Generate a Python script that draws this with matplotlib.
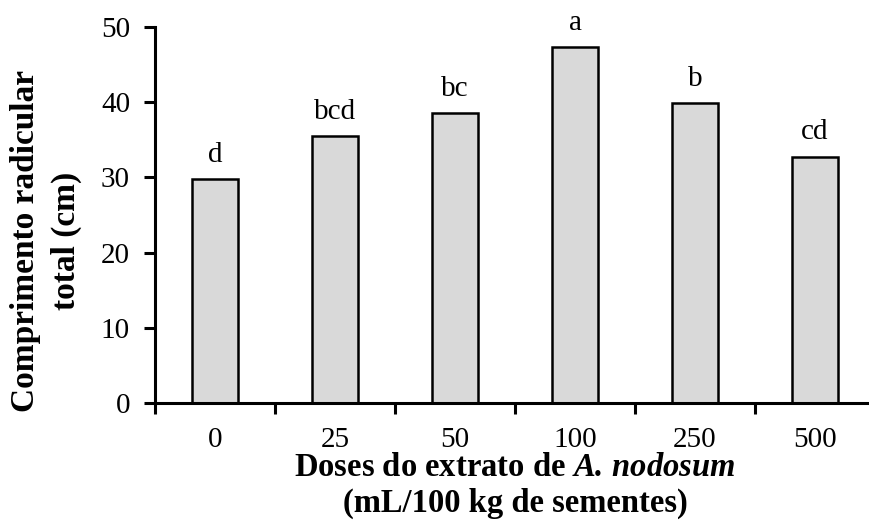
import matplotlib
matplotlib.use('Agg')
import matplotlib.pyplot as plt
import numpy as np

doses = ['0', '25', '50', '100', '250', '500']
comprimento = [29.8, 35.5, 38.5, 47.3, 39.9, 32.75]
letras = ['d', 'bcd', 'bc', 'a', 'b', 'cd']

plt.rcParams['font.family'] = 'Liberation Serif'
plt.rcParams['mathtext.fontset'] = 'custom'
plt.rcParams['mathtext.rm'] = 'Liberation Serif'
plt.rcParams['mathtext.it'] = 'Liberation Serif:italic'
plt.rcParams['mathtext.bf'] = 'Liberation Serif:bold'
plt.rcParams['mathtext.bfit'] = 'Liberation Serif:italic:bold'

fig = plt.figure(figsize=(8.69, 5.22), dpi=100)
ax = fig.add_axes([155/869, 1 - 403/522, 1 - 155/869, (403 - 27)/522])

x = np.arange(len(doses))
ax.bar(x, comprimento, width=0.39, color='#d9d9d9', edgecolor='black', linewidth=1.8)

for xi, v, l in zip(x, comprimento, letras):
    ax.text(xi, v + 1.5, l, ha='center', va='bottom', fontsize=21)

ax.set_ylim(0, 50)
ax.set_xlim(-0.5, 5.45)
ax.set_yticks([0, 10, 20, 30, 40, 50])
ax.set_xticks(x)
ax.set_xticklabels(doses)
ax.set_xticks(np.arange(-0.5, 5.5, 1), minor=True)

for s in ['top', 'right']:
    ax.spines[s].set_visible(False)
for s in ['left', 'bottom']:
    ax.spines[s].set_linewidth(2.2)

ax.tick_params(axis='y', which='major', direction='out', length=8, width=2.2, labelsize=21, pad=10)
ax.tick_params(axis='x', which='major', length=0, labelsize=21, pad=17)
ax.tick_params(axis='x', which='minor', direction='out', length=8, width=2.2)

fig.text(10/869, 1 - 241/522, 'Comprimento radicular\ntotal (cm)', rotation=90,
         ha='left', va='center', fontsize=24, fontweight='bold', linespacing=1.4,
         multialignment='center')

fig.text(515/869, 1 - 467/522, r'Doses do extrato de $\mathbfit{A.}\,\mathbfit{nodosum}$',
         ha='center', va='center', fontsize=23.5, fontweight='bold')
fig.text(515/869, 1 - 503/522, '(mL/100 kg de sementes)',
         ha='center', va='center', fontsize=23.5, fontweight='bold')

plt.savefig('out.png', dpi=100)
